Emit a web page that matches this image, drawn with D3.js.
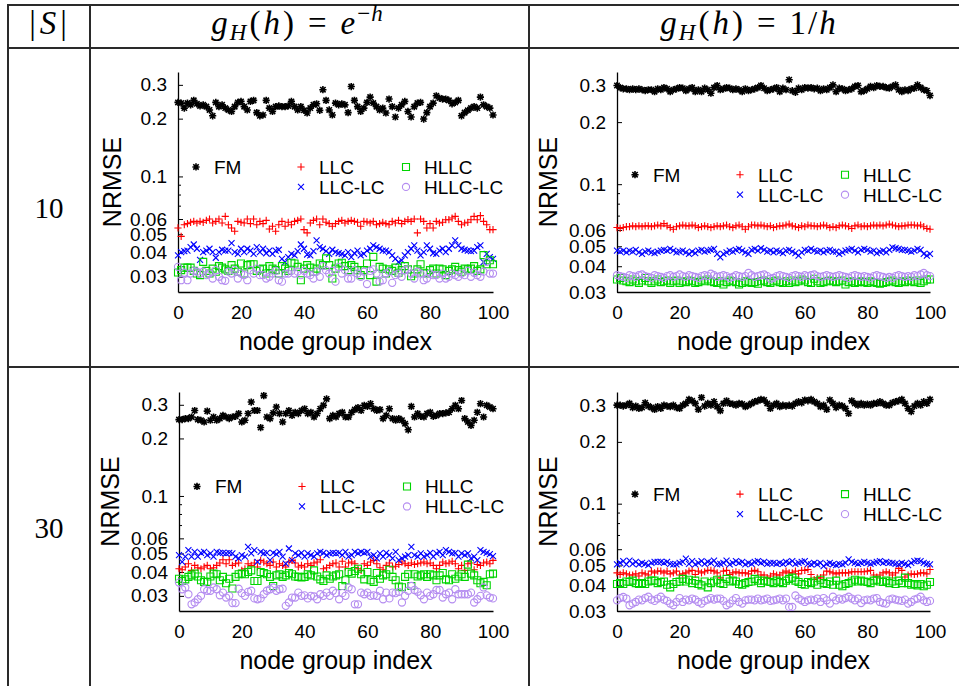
<!DOCTYPE html>
<html>
<head>
<meta charset="utf-8">
<script src="https://cdn.jsdelivr.net/npm/d3@7"></script>
<style>
html,body{margin:0;padding:0;background:#fff;}
svg{display:block;}
</style>
</head>
<body>
<svg id="chart" width="959" height="686"></svg>
<script>
// ---------- categories / labels ----------
const columnHeaders = ["exp", "inv"];           // g_H(h)=e^{-h}, g_H(h)=1/h
const rowLabels = ["10", "30"];                 // |S|
const seriesNames = ["FM", "LLC", "LLC-LC", "HLLC", "HLLC-LC"];
const groupIndex = d3.range(0, 101);            // node group index 0..100
const xTicks = [0, 20, 40, 60, 80, 100];
const yTicks = [0.03, 0.04, 0.05, 0.06, 0.1, 0.2, 0.3];
const yMinorTicks = [0.07, 0.08, 0.09];
const yDomainExp = [0.025, 0.35];
const yDomainInv = [0.03, 0.35];

// ---------- |S| = 10, g_H(h) = e^{-h} ----------
const fmExp10 = [.243,.241,.227,.241,.236,.249,.239,.233,.236,.231,
.222,.207,.243,.231,.236,.227,.222,.218,.231,.243,
.246,.231,.222,.246,.249,.215,.207,.209,.249,.227,
.218,.231,.233,.231,.231,.233,.246,.231,.222,.231,
.221,.214,.227,.236,.239,.221,.283,.249,.222,.209,
.241,.236,.239,.236,.215,.294,.249,.231,.218,.227,
.243,.259,.241,.231,.222,.227,.214,.253,.231,.204,
.227,.236,.246,.218,.204,.231,.241,.243,.199,.215,
.231,.241,.263,.256,.253,.253,.249,.239,.243,.249,
.207,.215,.221,.227,.231,.227,.259,.236,.231,.227,.209];
const llcExp10 = [.0539,.0487,.0560,.0568,.0577,.0583,.0572,.0583,.0577,.0590,
.0600,.0572,.0583,.0600,.0572,.0619,.0560,.0539,.0518,.0583,
.0577,.0572,.0600,.0568,.0600,.0560,.0583,.0568,.0590,.0532,
.0550,.0518,.0560,.0583,.0550,.0577,.0560,.0583,.0590,.0600,
.0528,.0508,.0572,.0590,.0600,.0560,.0600,.0577,.0568,.0550,
.0568,.0583,.0590,.0572,.0583,.0590,.0583,.0577,.0550,.0583,
.0580,.0572,.0583,.0560,.0568,.0577,.0568,.0560,.0583,.0572,
.0590,.0568,.0583,.0595,.0583,.0600,.0508,.0600,.0583,.0539,
.0568,.0539,.0583,.0572,.0577,.0595,.0595,.0607,.0619,.0583,
.0560,.0572,.0577,.0595,.0619,.0595,.0625,.0583,.0560,.0528,.0528];
const llclcExp10 = [.0388,.0403,.0408,.0411,.0428,.0442,.0420,.0368,.0403,.0411,
.0420,.0403,.0377,.0403,.0415,.0411,.0411,.0449,.0403,.0395,
.0420,.0403,.0420,.0411,.0395,.0428,.0403,.0420,.0398,.0411,
.0395,.0411,.0415,.0372,.0358,.0380,.0395,.0388,.0408,.0442,
.0420,.0392,.0388,.0408,.0464,.0428,.0420,.0408,.0395,.0415,
.0403,.0398,.0395,.0388,.0403,.0380,.0398,.0411,.0388,.0395,
.0411,.0420,.0437,.0428,.0420,.0411,.0411,.0403,.0388,.0372,
.0358,.0365,.0388,.0403,.0420,.0437,.0411,.0388,.0403,.0437,
.0420,.0398,.0395,.0411,.0420,.0403,.0420,.0437,.0464,.0437,
.0420,.0415,.0411,.0408,.0411,.0428,.0437,.0358,.0395,.0380,.0372];
const hllcExp10 = [.0316,.0325,.0335,.0335,.0335,.0322,.0312,.0306,.0359,.0322,
.0312,.0331,.0319,.0341,.0335,.0328,.0322,.0345,.0331,.0319,
.0352,.0312,.0345,.0349,.0349,.0322,.0328,.0331,.0312,.0341,
.0331,.0325,.0312,.0341,.0331,.0322,.0355,.0352,.0338,.0288,
.0331,.0345,.0335,.0319,.0331,.0352,.0345,.0374,.0345,.0294,
.0331,.0352,.0355,.0341,.0325,.0345,.0338,.0325,.0306,.0325,
.0352,.0306,.0381,.0283,.0338,.0331,.0312,.0328,.0322,.0335,
.0315,.0325,.0341,.0328,.0302,.0312,.0328,.0349,.0315,.0312,
.0325,.0331,.0312,.0331,.0328,.0306,.0322,.0328,.0338,.0325,
.0319,.0331,.0328,.0331,.0341,.0322,.0328,.0389,.0349,.0366,.0349];
const hllclcExp10 = [.0338,.0288,.0315,.0288,.0312,.0322,.0319,.0312,.0319,.0306,
.0312,.0294,.0325,.0300,.0288,.0286,.0319,.0312,.0325,.0294,
.0312,.0306,.0288,.0325,.0312,.0331,.0306,.0306,.0294,.0300,
.0312,.0322,.0288,.0283,.0312,.0312,.0322,.0312,.0319,.0306,
.0322,.0312,.0306,.0294,.0319,.0300,.0341,.0325,.0312,.0322,
.0283,.0338,.0312,.0325,.0294,.0294,.0325,.0312,.0300,.0319,
.0275,.0322,.0328,.0312,.0283,.0288,.0312,.0319,.0279,.0306,
.0312,.0300,.0325,.0328,.0312,.0294,.0319,.0312,.0288,.0294,
.0312,.0306,.0306,.0294,.0312,.0294,.0300,.0312,.0306,.0300,
.0312,.0306,.0322,.0300,.0315,.0306,.0300,.0319,.0359,.0312,.0312];

// ---------- |S| = 10, g_H(h) = 1/h ----------
const fmInv10 = [.301,.294,.290,.290,.287,.290,.287,.290,.287,.284,
.287,.287,.281,.290,.287,.294,.290,.281,.287,.290,
.294,.292,.284,.290,.294,.281,.287,.281,.292,.287,
.276,.294,.301,.287,.290,.294,.292,.287,.290,.287,
.281,.290,.284,.287,.290,.294,.301,.292,.284,.287,
.290,.294,.281,.292,.287,.321,.284,.279,.292,.287,
.294,.292,.294,.290,.292,.284,.290,.287,.294,.303,
.281,.292,.290,.284,.287,.290,.298,.301,.281,.284,
.290,.298,.294,.301,.298,.298,.294,.292,.298,.303,
.287,.281,.287,.284,.290,.292,.303,.294,.287,.284,.269];
const llcInv10 = [.0616,.0610,.0616,.0622,.0622,.0628,.0622,.0628,.0622,.0628,
.0628,.0622,.0628,.0634,.0628,.0644,.0628,.0616,.0605,.0622,
.0628,.0634,.0628,.0628,.0634,.0628,.0616,.0622,.0628,.0622,
.0616,.0622,.0628,.0622,.0628,.0634,.0622,.0616,.0628,.0634,
.0622,.0605,.0622,.0634,.0634,.0628,.0634,.0628,.0622,.0628,
.0616,.0622,.0628,.0628,.0634,.0640,.0628,.0622,.0616,.0628,
.0622,.0634,.0628,.0628,.0622,.0628,.0634,.0628,.0616,.0622,
.0616,.0628,.0634,.0628,.0622,.0610,.0628,.0634,.0622,.0628,
.0622,.0628,.0634,.0628,.0634,.0628,.0634,.0640,.0634,.0628,
.0622,.0628,.0628,.0634,.0634,.0634,.0628,.0634,.0622,.0610,.0605];
const llclcInv10 = [.0476,.0471,.0476,.0467,.0476,.0471,.0480,.0467,.0459,.0471,
.0476,.0467,.0463,.0471,.0476,.0480,.0476,.0485,.0476,.0467,
.0471,.0476,.0467,.0459,.0471,.0463,.0476,.0480,.0471,.0476,
.0480,.0485,.0459,.0442,.0459,.0467,.0476,.0471,.0480,.0485,
.0476,.0467,.0459,.0480,.0485,.0476,.0489,.0480,.0471,.0476,
.0467,.0476,.0471,.0463,.0476,.0480,.0471,.0463,.0450,.0467,
.0480,.0476,.0485,.0476,.0471,.0476,.0467,.0476,.0480,.0471,
.0471,.0459,.0467,.0476,.0480,.0485,.0476,.0467,.0480,.0485,
.0480,.0471,.0476,.0463,.0471,.0476,.0467,.0480,.0494,.0489,
.0485,.0480,.0480,.0476,.0471,.0476,.0485,.0480,.0459,.0450,.0459];
const hllcInv10 = [.0345,.0351,.0341,.0338,.0335,.0345,.0338,.0332,.0341,.0351,
.0338,.0332,.0338,.0345,.0335,.0338,.0341,.0332,.0338,.0341,
.0332,.0338,.0335,.0341,.0338,.0332,.0335,.0341,.0338,.0345,
.0338,.0335,.0332,.0338,.0326,.0335,.0341,.0338,.0335,.0326,
.0332,.0338,.0335,.0332,.0335,.0329,.0338,.0341,.0335,.0332,
.0338,.0341,.0335,.0332,.0338,.0332,.0341,.0335,.0338,.0345,
.0341,.0335,.0332,.0348,.0338,.0332,.0335,.0338,.0341,.0338,
.0335,.0338,.0341,.0326,.0335,.0338,.0332,.0335,.0338,.0335,
.0332,.0338,.0335,.0332,.0329,.0332,.0335,.0338,.0341,.0335,
.0332,.0338,.0335,.0341,.0338,.0335,.0341,.0332,.0338,.0345,.0345];
const hllclcInv10 = [.0362,.0358,.0355,.0351,.0362,.0358,.0355,.0362,.0365,.0358,
.0355,.0351,.0362,.0358,.0355,.0351,.0358,.0362,.0355,.0358,
.0365,.0358,.0355,.0362,.0358,.0355,.0351,.0358,.0362,.0358,
.0368,.0362,.0355,.0358,.0362,.0358,.0351,.0355,.0362,.0358,
.0355,.0358,.0371,.0362,.0355,.0358,.0362,.0365,.0358,.0348,
.0351,.0358,.0362,.0358,.0355,.0351,.0358,.0362,.0358,.0355,
.0362,.0358,.0362,.0365,.0358,.0355,.0358,.0362,.0358,.0355,
.0358,.0362,.0358,.0355,.0351,.0358,.0362,.0358,.0355,.0358,
.0355,.0351,.0358,.0362,.0358,.0355,.0351,.0355,.0351,.0358,
.0362,.0358,.0355,.0358,.0355,.0362,.0358,.0365,.0371,.0362,.0358];

// ---------- |S| = 30, g_H(h) = e^{-h} ----------
const fmExp30 = [.251,.251,.254,.254,.259,.280,.251,.249,.244,.278,
.249,.259,.249,.254,.264,.259,.254,.259,.261,.270,
.244,.249,.270,.310,.280,.280,.228,.335,.259,.254,
.272,.292,.270,.244,.270,.280,.264,.274,.270,.280,
.286,.270,.274,.259,.270,.286,.298,.322,.254,.264,
.259,.270,.274,.259,.259,.274,.283,.290,.280,.298,
.294,.304,.286,.280,.283,.254,.264,.286,.254,.249,
.254,.249,.239,.222,.294,.259,.270,.261,.259,.270,
.274,.261,.264,.270,.270,.272,.274,.286,.298,.286,
.316,.254,.244,.234,.249,.274,.304,.259,.298,.292,.286];
const llcExp30 = [.0416,.0411,.0425,.0442,.0408,.0433,.0421,.0416,.0425,.0433,
.0416,.0421,.0433,.0446,.0464,.0442,.0464,.0433,.0442,.0446,
.0408,.0416,.0442,.0433,.0446,.0425,.0460,.0451,.0442,.0433,
.0451,.0425,.0442,.0433,.0425,.0451,.0460,.0446,.0425,.0433,
.0425,.0442,.0433,.0446,.0451,.0464,.0416,.0421,.0433,.0442,
.0446,.0425,.0455,.0425,.0446,.0451,.0442,.0416,.0408,.0442,
.0433,.0451,.0460,.0442,.0421,.0411,.0433,.0446,.0425,.0429,
.0438,.0451,.0442,.0433,.0446,.0438,.0442,.0446,.0451,.0442,
.0446,.0433,.0416,.0433,.0451,.0442,.0446,.0455,.0442,.0416,
.0433,.0408,.0442,.0446,.0411,.0438,.0433,.0446,.0451,.0442,.0460];
const llclcExp30 = [.0490,.0452,.0481,.0520,.0481,.0510,.0481,.0504,.0510,.0490,
.0500,.0481,.0510,.0504,.0504,.0500,.0504,.0500,.0481,.0471,
.0490,.0481,.0541,.0500,.0520,.0452,.0510,.0500,.0504,.0462,
.0504,.0496,.0510,.0481,.0443,.0531,.0462,.0500,.0490,.0504,
.0481,.0500,.0490,.0481,.0500,.0510,.0504,.0490,.0500,.0504,
.0500,.0504,.0490,.0510,.0481,.0490,.0510,.0500,.0510,.0504,
.0510,.0481,.0490,.0471,.0500,.0481,.0504,.0490,.0471,.0510,
.0462,.0471,.0481,.0490,.0541,.0490,.0481,.0500,.0481,.0490,
.0504,.0481,.0500,.0510,.0490,.0520,.0510,.0500,.0504,.0481,
.0500,.0490,.0500,.0471,.0481,.0462,.0520,.0510,.0504,.0496,.0484];
const hllcExp30 = [.0369,.0359,.0366,.0377,.0384,.0392,.0379,.0362,.0355,.0355,
.0379,.0392,.0389,.0362,.0377,.0349,.0369,.0328,.0377,.0389,
.0392,.0389,.0400,.0408,.0359,.0359,.0400,.0395,.0389,.0377,
.0338,.0384,.0389,.0377,.0384,.0395,.0389,.0379,.0377,.0374,
.0377,.0389,.0384,.0408,.0379,.0366,.0359,.0384,.0369,.0379,
.0384,.0389,.0338,.0362,.0400,.0392,.0405,.0416,.0389,.0366,
.0400,.0362,.0355,.0395,.0369,.0384,.0389,.0411,.0377,.0362,
.0336,.0333,.0377,.0389,.0338,.0389,.0379,.0384,.0389,.0377,
.0389,.0384,.0362,.0384,.0395,.0366,.0362,.0389,.0369,.0379,
.0389,.0377,.0437,.0392,.0384,.0362,.0349,.0355,.0341,.0389,.0392];
const hllclcExp30 = [.0352,.0325,.0332,.0306,.0271,.0277,.0288,.0300,.0325,.0319,
.0319,.0332,.0325,.0302,.0312,.0294,.0300,.0275,.0275,.0327,
.0310,.0300,.0315,.0319,.0291,.0288,.0291,.0306,.0319,.0325,
.0332,.0319,.0325,.0327,.0266,.0277,.0294,.0294,.0312,.0300,
.0302,.0291,.0300,.0298,.0288,.0306,.0300,.0312,.0300,.0319,
.0310,.0288,.0310,.0300,.0332,.0325,.0271,.0271,.0312,.0306,
.0312,.0300,.0302,.0300,.0319,.0288,.0312,.0291,.0312,.0310,
.0315,.0277,.0300,.0319,.0338,.0322,.0315,.0302,.0288,.0312,
.0300,.0306,.0322,.0322,.0294,.0306,.0312,.0288,.0325,.0306,
.0306,.0306,.0306,.0312,.0277,.0288,.0300,.0332,.0302,.0294,.0291];

// ---------- |S| = 30, g_H(h) = 1/h ----------
const fmInv30 = [.302,.302,.299,.302,.308,.294,.299,.291,.294,.310,
.299,.294,.288,.297,.291,.302,.299,.297,.302,.294,
.291,.302,.308,.322,.317,.308,.288,.329,.299,.308,
.302,.314,.297,.284,.308,.317,.308,.306,.302,.308,
.306,.297,.302,.308,.314,.317,.322,.320,.308,.291,
.302,.308,.297,.302,.299,.302,.299,.308,.314,.310,
.320,.317,.322,.314,.308,.297,.302,.288,.320,.308,
.294,.302,.299,.291,.275,.317,.308,.302,.308,.302,
.306,.302,.308,.308,.314,.308,.302,.302,.310,.314,
.317,.322,.308,.291,.281,.299,.308,.302,.314,.308,.322];
const llcInv30 = [.0460,.0452,.0460,.0455,.0449,.0449,.0455,.0444,.0460,.0455,
.0449,.0469,.0460,.0469,.0469,.0460,.0469,.0455,.0460,.0469,
.0449,.0455,.0460,.0469,.0473,.0452,.0469,.0460,.0466,.0473,
.0473,.0469,.0460,.0435,.0469,.0473,.0452,.0460,.0466,.0460,
.0460,.0460,.0455,.0469,.0473,.0466,.0449,.0449,.0435,.0444,
.0455,.0449,.0449,.0460,.0469,.0460,.0460,.0469,.0455,.0473,
.0473,.0478,.0452,.0427,.0435,.0435,.0449,.0469,.0466,.0460,
.0455,.0460,.0460,.0460,.0460,.0466,.0466,.0466,.0466,.0466,
.0469,.0473,.0449,.0439,.0449,.0460,.0466,.0460,.0449,.0460,
.0484,.0473,.0439,.0449,.0455,.0452,.0455,.0460,.0460,.0455,.0478];
const llclcInv30 = [.0506,.0515,.0525,.0506,.0528,.0509,.0521,.0506,.0515,.0509,
.0502,.0515,.0521,.0521,.0521,.0515,.0521,.0509,.0506,.0506,
.0515,.0521,.0540,.0509,.0525,.0506,.0515,.0525,.0509,.0521,
.0515,.0528,.0506,.0509,.0515,.0528,.0506,.0515,.0525,.0515,
.0521,.0506,.0515,.0509,.0521,.0525,.0515,.0521,.0509,.0515,
.0515,.0509,.0515,.0509,.0521,.0515,.0525,.0509,.0515,.0521,
.0525,.0509,.0506,.0515,.0506,.0515,.0496,.0509,.0515,.0506,
.0502,.0509,.0506,.0515,.0535,.0521,.0515,.0509,.0515,.0521,
.0515,.0509,.0515,.0521,.0525,.0515,.0521,.0515,.0515,.0509,
.0506,.0515,.0509,.0502,.0515,.0525,.0528,.0525,.0515,.0509,.0506];
const hllcInv30 = [.0406,.0410,.0406,.0418,.0415,.0422,.0410,.0406,.0410,.0406,
.0418,.0422,.0422,.0410,.0415,.0418,.0403,.0391,.0406,.0415,
.0418,.0430,.0418,.0426,.0410,.0422,.0406,.0400,.0418,.0391,
.0410,.0418,.0426,.0410,.0406,.0430,.0418,.0422,.0418,.0406,
.0403,.0410,.0415,.0418,.0430,.0422,.0410,.0422,.0418,.0415,
.0410,.0422,.0415,.0410,.0422,.0430,.0436,.0422,.0415,.0406,
.0403,.0415,.0410,.0418,.0403,.0426,.0410,.0406,.0418,.0403,
.0422,.0403,.0396,.0406,.0410,.0418,.0426,.0418,.0422,.0418,
.0415,.0410,.0422,.0426,.0418,.0415,.0422,.0410,.0418,.0406,
.0422,.0410,.0436,.0410,.0403,.0406,.0400,.0406,.0396,.0403,.0415];
const hllclcInv30 = [.0338,.0347,.0351,.0345,.0320,.0326,.0332,.0341,.0338,.0347,
.0352,.0341,.0336,.0345,.0352,.0341,.0336,.0326,.0320,.0332,
.0347,.0332,.0341,.0338,.0345,.0341,.0332,.0326,.0336,.0341,
.0347,.0341,.0345,.0345,.0336,.0320,.0326,.0338,.0347,.0332,
.0326,.0338,.0341,.0341,.0338,.0345,.0338,.0341,.0345,.0336,
.0338,.0341,.0345,.0338,.0345,.0314,.0314,.0357,.0345,.0338,
.0332,.0338,.0341,.0338,.0345,.0332,.0347,.0338,.0326,.0352,
.0338,.0345,.0341,.0347,.0352,.0345,.0338,.0345,.0328,.0338,
.0341,.0338,.0345,.0347,.0332,.0328,.0326,.0341,.0345,.0341,
.0338,.0336,.0341,.0326,.0332,.0341,.0345,.0352,.0338,.0332,.0336];

// ---------- drawing ----------
const svg = d3.select("#chart");
const FONT = "'Liberation Sans', Arial, Helvetica, sans-serif";
const SERIF = "'Liberation Serif', 'Times New Roman', serif";
const colors = {"FM":"#000000","LLC":"#ff0000","LLC-LC":"#0000ff","HLLC":"#00d400","HLLC-LC":"#b48cf0"};
const strokeW = {"FM":1.6,"LLC":1.1,"LLC-LC":1.1,"HLLC":1.1,"HLLC-LC":1.1};

// table grid
const grid = svg.append("g").attr("stroke", "#2a2a2a").attr("stroke-width", 2);
[[8,5,959,5],[8,48,959,48],[8,367,959,367],[8,4,8,686],[90,4,90,686],[529,4,529,686]]
  .forEach(l => grid.append("line").attr("x1",l[0]).attr("y1",l[1]).attr("x2",l[2]).attr("y2",l[3]));

// header: math-like text built from tspans
function mathText(x, parts) {
  const t = svg.append("text").attr("x", x).attr("y", 34).attr("text-anchor", "middle")
    .attr("font-family", SERIF).attr("font-size", 33);
  parts.forEach(pt => {
    const s = t.append("tspan").text(pt.t);
    if (pt.it) s.attr("font-style", "italic");
    if (pt.fs) s.attr("font-size", pt.fs);
    if (pt.dx) s.attr("dx", pt.dx);
    if (pt.dy) s.attr("dy", pt.dy);
  });
  return t;
}
mathText(48, [{t:"|"}, {t:"S", it:true, dx:4}, {t:"|", dx:4}]);
function header(x, kind) {
  const parts = [
    {t:"g", it:true},
    {t:"H", it:true, fs:23, dx:2, dy:6},
    {t:"(", dx:3, dy:-6},
    {t:"h", it:true, dx:3},
    {t:")", dx:3},
    {t:"=", dx:14}
  ];
  if (kind === "exp") {
    parts.push({t:"e", it:true, dx:14}, {t:"\u2212", fs:23, dx:2, dy:-13}, {t:"h", it:true, fs:23, dx:1});
  } else {
    parts.push({t:"1", dx:14}, {t:"/", dx:2}, {t:"h", it:true, dx:2});
  }
  mathText(x, parts);
}
header(297, columnHeaders[0]);
header(748, columnHeaders[1]);

rowLabels.forEach((r, i) => {
  svg.append("text").attr("x", 49).attr("y", i === 0 ? 218 : 538).attr("text-anchor","middle")
    .attr("font-family", SERIF).attr("font-size", 29).text(r);
});

// marker shapes
function markerPath(name) {
  const r = 3.6;
  switch (name) {
    case "FM": return `M${-r},0H${r}M0,${-r}V${r}M${-r*0.75},${-r*0.75}L${r*0.75},${r*0.75}M${-r*0.75},${r*0.75}L${r*0.75},${-r*0.75}`;
    case "LLC": return `M${-r},0H${r}M0,${-r}V${r}`;
    case "LLC-LC": return `M-3,-3L3,3M-3,3L3,-3`;
    case "HLLC": return `M-3.5,-3.5H3.5V3.5H-3.5Z`;
    case "HLLC-LC": return `M3.6,0A3.6,3.6 0 1 1 -3.6,0A3.6,3.6 0 1 1 3.6,0Z`;
  }
}

const panels = [
  {series:[fmExp10, llcExp10, llclcExp10, hllcExp10, hllclcExp10], domain:yDomainExp, x0:178, x1:493, yt:72, yb:292, ylx:121},
  {series:[fmInv10, llcInv10, llclcInv10, hllcInv10, hllclcInv10], domain:yDomainInv, x0:617, x1:930, yt:72, yb:292, ylx:557},
  {series:[fmExp30, llcExp30, llclcExp30, hllcExp30, hllclcExp30], domain:yDomainExp, x0:179, x1:493, yt:392, yb:611, ylx:119},
  {series:[fmInv30, llcInv30, llclcInv30, hllcInv30, hllclcInv30], domain:yDomainInv, x0:617, x1:930, yt:392, yb:611, ylx:557}
];

panels.forEach(p => {
  const x = d3.scaleLinear().domain([0, 100]).range([p.x0, p.x1]);
  const y = d3.scaleLog().domain(p.domain).range([p.yb, p.yt]);
  const g = svg.append("g");

  // y axis
  const ya = g.append("g").attr("transform", `translate(${p.x0},0)`)
    .call(d3.axisLeft(y).tickValues(yTicks).tickFormat(d3.format("~g")).tickSizeInner(-5).tickSizeOuter(0).tickPadding(11));
  ya.select(".domain").attr("stroke", "#000").attr("stroke-width", 1.3);
  ya.selectAll(".tick line").attr("stroke", "#000");
  ya.selectAll("text").attr("font-family", FONT).attr("font-size", 19).attr("fill", "#000");
  yMinorTicks.forEach(v => g.append("line").attr("x1", p.x0).attr("x2", p.x0 + 3)
    .attr("y1", y(v)).attr("y2", y(v)).attr("stroke", "#000"));

  // x axis
  const xa = g.append("g").attr("transform", `translate(0,${p.yb})`)
    .call(d3.axisBottom(x).tickValues(xTicks).tickSizeInner(0).tickSizeOuter(0).tickPadding(14));
  xa.select(".domain").attr("stroke", "#000").attr("stroke-width", 1.3);
  xa.selectAll("text").attr("font-family", FONT).attr("font-size", 19).attr("fill", "#000");

  // axis titles
  g.append("text").attr("x", (p.x0 + p.x1) / 2).attr("y", p.yb + 58).attr("text-anchor", "middle")
    .attr("font-family", FONT).attr("font-size", 25).text("node group index");
  g.append("text").attr("transform", `translate(${p.ylx},${(p.yt + p.yb) / 2}) rotate(-90)`)
    .attr("text-anchor", "middle").attr("font-family", FONT).attr("font-size", 25).text("NRMSE");

  // points
  seriesNames.forEach((name, si) => {
    g.append("g").selectAll("path").data(p.series[si]).join("path")
      .attr("d", markerPath(name))
      .attr("transform", (d, i) => `translate(${x(groupIndex[i])},${y(d)})`)
      .attr("fill", "none").attr("stroke", colors[name]).attr("stroke-width", strokeW[name]);
  });

  // legend
  const ly1 = y(0.1) - 9.5, ly2 = ly1 + 20;
  const legendPos = {"FM":[18, ly1], "LLC":[123, ly1], "HLLC":[228, ly1], "LLC-LC":[123, ly2], "HLLC-LC":[228, ly2]};
  seriesNames.forEach(name => {
    const [dx, ly] = legendPos[name];
    g.append("path").attr("d", markerPath(name)).attr("transform", `translate(${p.x0 + dx},${ly})`)
      .attr("fill", "none").attr("stroke", colors[name]).attr("stroke-width", strokeW[name]);
    g.append("text").attr("x", p.x0 + dx + 18).attr("y", ly + 7).attr("font-family", FONT)
      .attr("font-size", 19).text(name);
  });
});
</script>
</body>
</html>
